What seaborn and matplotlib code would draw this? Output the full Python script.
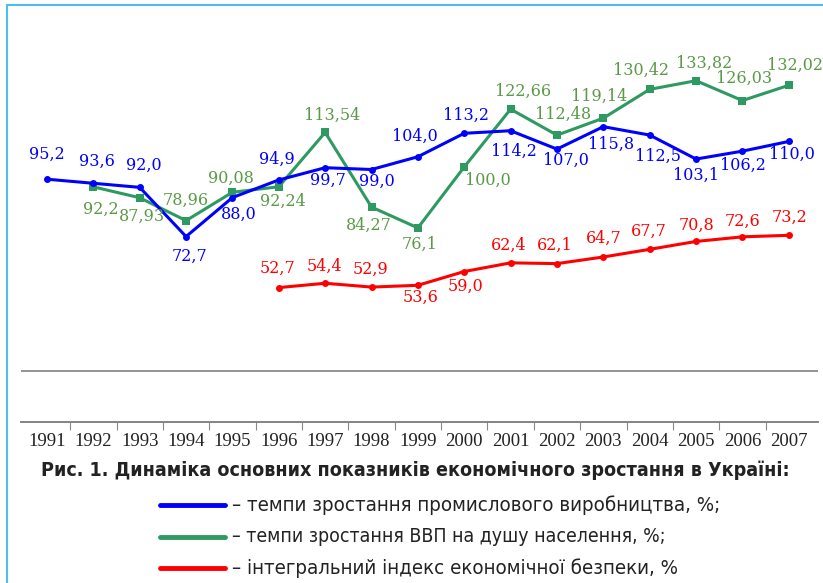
import numpy as np
import pandas as pd
import matplotlib
matplotlib.use('Agg')
import matplotlib.pyplot as plt
import seaborn as sns
from matplotlib.lines import Line2D

# data
years = [str(y) for y in range(1991, 2008)]
industry = [95.2, 93.6, 92.0, 72.7, 88.0, 94.9, 99.7, 99.0, 104.0, 113.2,
            114.2, 107.0, 115.8, 112.5, 103.1, 106.2, 110.0]
gdp_years = years[1:]
gdp = [92.2, 87.93, 78.96, 90.08, 92.24, 113.54, 84.27, 76.1, 100.0,
       122.66, 112.48, 119.14, 130.42, 133.82, 126.03, 132.02]
security_years = years[5:]
security = [52.7, 54.4, 52.9, 53.6, 59.0, 62.4, 62.1, 64.7, 67.7, 70.8, 72.6, 73.2]

title = 'Рис. 1. Динаміка основних показників економічного зростання в Україні:'
legend_labels = ['– темпи зростання промислового виробництва, %;',
                 '– темпи зростання ВВП на душу населення, %;',
                 '– інтегральний індекс економічної безпеки, %']

# label offsets in pixels (layout only)
industry_off = [(0, 25), (4, 22), (4, 22), (3, -20), (6, -17), (-2, 21), (3, -13),
                (5, -12), (-3, 20), (2, 18), (3, -21), (9, -11), (8, -18), (8, -21),
                (0, -16), (1, -14), (3, -13)]
gdp_off = [(7, -22), (2, -19), (0, 20), (-1, 14), (4, -15), (7, 17), (-3, -18),
           (2, -16), (24, -13), (12, 18), (6, 21), (-4, 22), (-9, 19), (8, 17),
           (2, 22), (6, 20)]
security_off = [(-1, 19), (-1, 17), (-1, 18), (3, -12), (1, -15), (-2, 18),
                (-2, 18), (0, 19), (-1, 18), (0, 16), (0, 16), (1, 18)]

blue = '#0000ff'
green_line = '#2e9960'
green_text = '#5a9a46'
red = '#ff0000'

sns.set_style('white')
plt.rcParams['font.family'] = ['DejaVu Serif']

fig = plt.figure(figsize=(8.23, 5.83), dpi=100)
ax = fig.add_axes([21 / 823, 161 / 583, 797 / 823, 417 / 583])

pos = {y: i for i, y in enumerate(years)}
df_ind = pd.DataFrame({'x': [pos[y] for y in years], 'v': industry})
df_gdp = pd.DataFrame({'x': [pos[y] for y in gdp_years], 'v': gdp})
df_sec = pd.DataFrame({'x': [pos[y] for y in security_years], 'v': security})

sns.lineplot(data=df_gdp, x='x', y='v', ax=ax, color=green_line, lw=2.2,
             marker='s', markersize=6, markeredgewidth=0)
sns.lineplot(data=df_ind, x='x', y='v', ax=ax, color=blue, lw=2.2,
             marker='o', markersize=5, markeredgewidth=0)
sns.lineplot(data=df_sec, x='x', y='v', ax=ax, color=red, lw=2.2,
             marker='o', markersize=5, markeredgewidth=0)

for df, vals, offs, col in [(df_ind, industry, industry_off, blue),
                            (df_gdp, gdp, gdp_off, green_text),
                            (df_sec, security, security_off, red)]:
    for x, v, o in zip(df['x'], vals, offs):
        s = repr(v)
        dec = len(s.split('.')[1])
        ax.annotate(f'{v:.{dec}f}'.replace('.', ','), (x, v), xytext=o,
                    textcoords='offset pixels', ha='center', va='center',
                    color=col, fontsize=11.5)

ax.axhline(20, color='#8a8a8a', lw=1.3, zorder=0)
ax.set_xlim(-0.56, 16.63)
ax.set_ylim(0, 163.5)
ax.set_xlabel('')
ax.set_ylabel('')
ax.set_yticks([])
ax.set_xticks(range(len(years)))
ax.set_xticklabels(years, family='Liberation Serif', fontsize=13.5, color='#222222')
ax.set_xticks(np.arange(len(years) - 1) + 0.5, minor=True)
ax.tick_params(axis='x', which='major', length=0, pad=8)
ax.tick_params(axis='x', which='minor', length=6, width=0.8, color='#888888',
               direction='out', bottom=True)
for side in ['top', 'right', 'left']:
    ax.spines[side].set_visible(False)
ax.spines['bottom'].set_color('#7a7a7a')
ax.spines['bottom'].set_linewidth(1.3)

# frame
fig.add_artist(Line2D([7 / 823, 7 / 823], [0, 578 / 583], color='#4cc0ea', lw=1.5))
fig.add_artist(Line2D([7 / 823, 1], [578 / 583, 578 / 583], color='#4cc0ea', lw=1.5))

renderer = fig.canvas.get_renderer()

def fit_text(t, width_px):
    # shrink the font so the text takes the same width as in the picture
    w = t.get_window_extent(renderer).width
    t.set_fontsize(t.get_fontsize() * width_px / w)

tt = fig.text(415 / 823, 1 - 470 / 583, title, ha='center', va='center',
              family='DejaVu Sans', stretch='condensed', weight='bold',
              fontsize=15, color='#222222')
fit_text(tt, 752)
for yy, col, lab, wd in zip([505, 537, 568], [blue, green_line, red],
                            legend_labels, [490, 432, 446]):
    fy = 1 - yy / 583
    fig.add_artist(Line2D([160 / 823, 225 / 823], [fy, fy], color=col, lw=3.5))
    t = fig.text(232 / 823, fy, lab, ha='left', va='center', family='DejaVu Sans',
                 stretch='condensed', fontsize=14.5, color='#222222')
    fit_text(t, wd)

fig.savefig('out.png', dpi=100)
